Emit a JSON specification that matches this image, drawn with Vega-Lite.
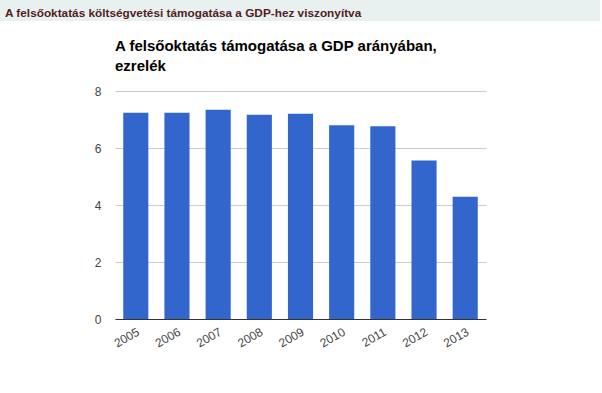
{
  "$schema": "https://vega.github.io/schema/vega-lite/v6.json",
  "padding": 0,
  "autosize": {"type": "pad"},
  "background": "white",
  "spacing": 17,
  "config": {"view": {"stroke": null}, "font": "Liberation Sans"},
  "vconcat": [
    {
      "width": 600,
      "height": 21,
      "view": {"fill": "#e8f1ef", "stroke": null},
      "title": {
        "text": "A felsőoktatás költségvetési támogatása a GDP-hez viszonyítva",
        "anchor": "start",
        "frame": "group",
        "orient": "top",
        "offset": -29,
        "dx": 5,
        "baseline": "alphabetic",
        "fontSize": 11.8,
        "fontWeight": "bold",
        "color": "#531d22",
        "font": "Liberation Sans"
      },
      "data": {"values": [{"fejlec": "A felsőoktatás költségvetési támogatása a GDP-hez viszonyítva"}]},
      "mark": {"type": "rect", "fill": "#e8f1ef"},
      "encoding": {}
    },
    {
      "spacing": 0,
      "hconcat": [
        {
          "width": 75,
          "height": 1,
          "data": {"values": []},
          "mark": {"type": "text"},
          "encoding": {}
        },
        {
          "width": 371,
          "height": 228,
          "title": {
            "text": ["A felsőoktatás támogatása a GDP arányában,", "ezrelék"],
            "anchor": "start",
            "frame": "group",
            "fontSize": 15,
            "fontWeight": "bold",
            "color": "#000000",
            "font": "Liberation Sans",
            "lineHeight": 20.5,
            "baseline": "bottom",
            "offset": -4
          },
          "data": {
            "values": [
              {"ev": "2005", "ertek": 7.24},
              {"ev": "2006", "ertek": 7.24},
              {"ev": "2007", "ertek": 7.34},
              {"ev": "2008", "ertek": 7.17},
              {"ev": "2009", "ertek": 7.2},
              {"ev": "2010", "ertek": 6.8},
              {"ev": "2011", "ertek": 6.76},
              {"ev": "2012", "ertek": 5.56},
              {"ev": "2013", "ertek": 4.29}
            ]
          },
          "mark": {"type": "bar", "color": "#3366cc"},
          "encoding": {
            "x": {
              "field": "ev",
              "type": "ordinal",
              "title": null,
              "scale": {"paddingInner": 0.39, "paddingOuter": 0.2},
              "axis": {
                "labelAngle": -30,
                "ticks": false,
                "domainColor": "#333333",
                "labelColor": "#444444",
                "labelFontSize": 12,
                "labelPadding": 7,
                "labelFont": "Liberation Sans"
              }
            },
            "y": {
              "field": "ertek",
              "type": "quantitative",
              "title": null,
              "scale": {"domain": [0, 8]},
              "axis": {
                "values": [0, 2, 4, 6, 8],
                "ticks": false,
                "domain": false,
                "gridColor": "#cccccc",
                "labelColor": "#444444",
                "labelFontSize": 12,
                "labelPadding": 14,
                "labelFont": "Liberation Sans",
                "minExtent": 40
              }
            }
          }
        }
      ]
    }
  ]
}
